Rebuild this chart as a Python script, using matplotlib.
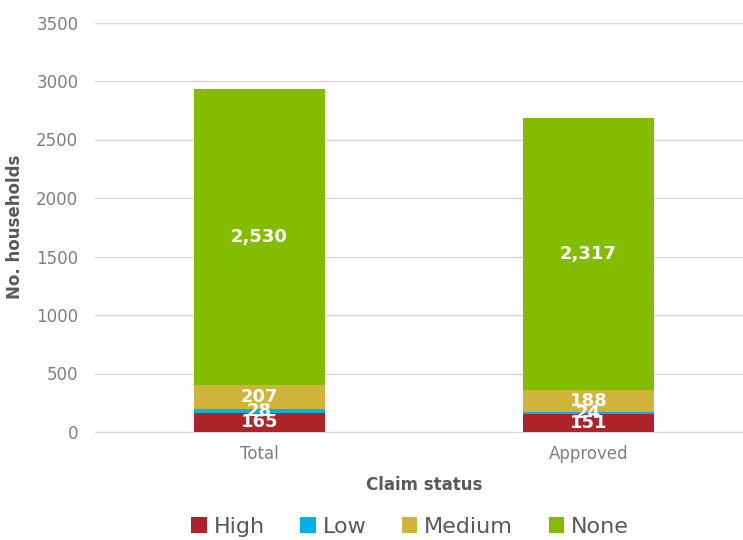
import matplotlib.pyplot as plt
import numpy as np

categories = ['Total', 'Approved']
high = [165, 151]
low = [28, 24]
medium = [207, 188]
none_ = [2530, 2317]

series = [('High', high, '#AE2328'),
          ('Low', low, '#00B0E8'),
          ('Medium', medium, '#D0B43A'),
          ('None', none_, '#84BC00')]

plt.rcParams['font.family'] = ['DejaVu Sans']

fig = plt.figure(figsize=(7.43, 5.4), dpi=100)
ax = fig.add_axes([95/743, 108/540, 658/743, 409.5/540])

x = np.arange(len(categories))
bottom = np.zeros(len(categories))
for name, vals, col in series:
    bars = ax.bar(x, vals, 0.4, bottom=bottom, color=col, label=name, zorder=3)
    ax.bar_label(bars, labels=['{:,}'.format(v) for v in vals], label_type='center',
                 color='white', fontweight='bold', fontsize=13, zorder=4)
    bottom += np.array(vals)

ax.set_xlim(-0.5, 1.5)
ax.set_ylim(0, 3500)
ax.set_yticks(np.arange(0, 3501, 500))
ax.set_xticks(x)
ax.set_xticklabels(categories)
ax.grid(axis='y', color='#D9D9D9', linewidth=1, zorder=0)
for s in ['top', 'right', 'left']:
    ax.spines[s].set_visible(False)
ax.spines['bottom'].set_color('#D9D9D9')
ax.tick_params(axis='both', length=0, labelcolor='#7F7F7F', labelsize=12)
ax.tick_params(axis='y', pad=12)
ax.tick_params(axis='x', pad=9.5)

ax.set_ylabel('No. households', fontsize=12, fontweight='bold', color='#595959', labelpad=9)
ax.set_xlabel('Claim status', fontsize=12, fontweight='bold', color='#595959', labelpad=9)

fig.legend(loc='center', bbox_to_anchor=(410/743, 1 - 527/540), ncol=4, frameon=False,
           fontsize=16, labelcolor='#595959', handlelength=0.7, handleheight=0.7,
           handletextpad=0.3, columnspacing=1.6)

fig.savefig('out.png', dpi=100)
